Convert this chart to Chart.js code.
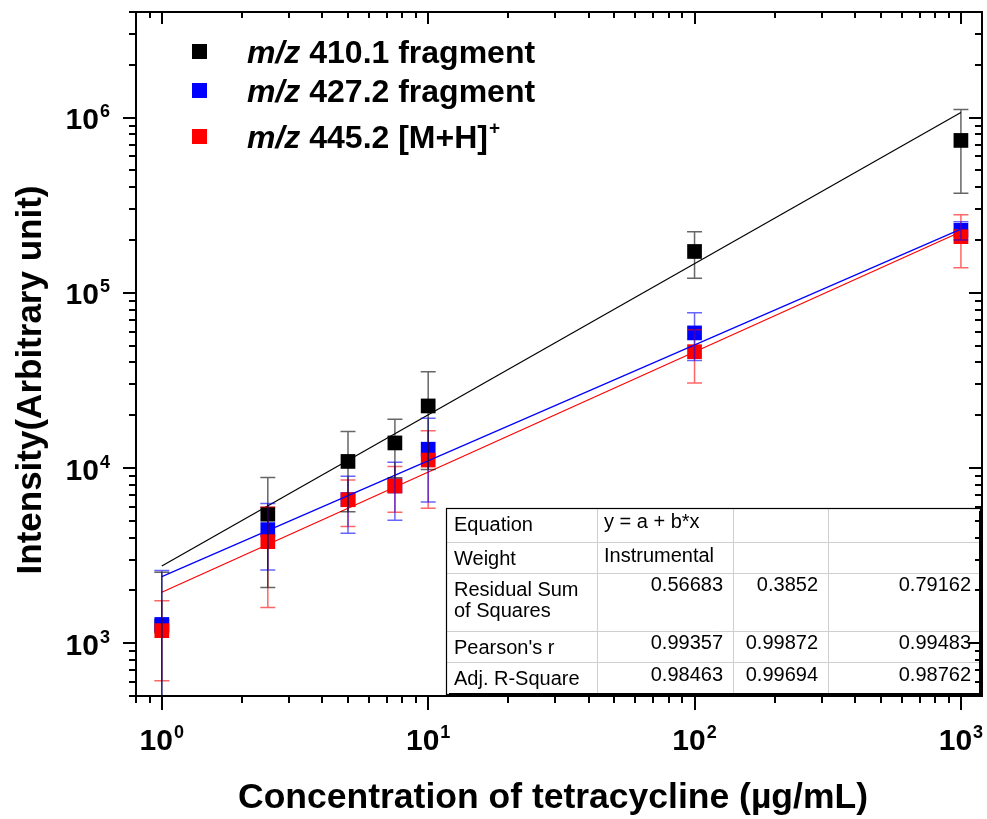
<!DOCTYPE html>
<html>
<head>
<meta charset="utf-8">
<script src="https://cdn.jsdelivr.net/npm/chart.js@4.4.1/dist/chart.umd.min.js"></script>
<style>
  html, body { margin: 0; padding: 0; background: #fff; }
</style>
</head>
<body>
<canvas id="chart" width="987" height="819"></canvas>
<script>
// Concentration of tetracycline (µg/mL)
const concentrations = [1, 2.5, 5, 7.5, 10, 100, 1000];

// Mean intensity and error (SD) per fragment
const mz410 = [1250, 5450, 10900, 13900, 22600, 172000, 740000];
const mz410Err = [1290, 3370, 5270, 5100, 12800, 51000, 370000];
const mz427 = [1280, 4450, 6600, 7900, 12800, 59000, 227000];
const mz427Err = [1320, 1830, 2360, 2870, 6400, 18000, 27000];
const mz445 = [1180, 3800, 6590, 7900, 11100, 46100, 209000];
const mz445Err = [570, 2200, 1960, 2300, 5200, 15500, 70000];

// Linear fit lines (log-log), end points at x = 1 and x = 1000
const fitX = [1, 1000];
const fit410 = [2760, 1068000];
const fit427 = [2400, 230700];
const fit445 = [1954, 223000];

const seriesNames = ['410.1 fragment', '427.2 fragment', '445.2 [M+H]'];
const xTickValues = [1, 10, 100, 1000];
const yTickValues = [1e3, 1e4, 1e5, 1e6];

// Fit statistics table
const tableLabels = ['Equation', 'Weight', 'Residual Sum|of Squares', "Pearson's r", 'Adj. R-Square'];
const equationText = 'y = a + b*x';
const weightText = 'Instrumental';
const residualSS = ['0.56683', '0.3852', '0.79162'];
const pearsonR = ['0.99357', '0.99872', '0.99483'];
const adjRSquare = ['0.98463', '0.99694', '0.98762'];

const FONT = 'Arial, "Liberation Sans", sans-serif';

function points(ys) {
  return concentrations.map((x, i) => ({x: x, y: ys[i]}));
}
function fitPoints(ys) {
  return fitX.map((x, i) => ({x: x, y: ys[i]}));
}

function scatterSet(name, ys, errs, color, errColor, order) {
  return {
    label: name,
    data: points(ys),
    errors: errs,
    errorColor: errColor,
    showLine: false,
    pointStyle: 'rect',
    pointRadius: 10.4,
    pointHoverRadius: 10.4,
    borderWidth: 0,
    backgroundColor: color,
    borderColor: color,
    order: order
  };
}
function fitSet(ys, color) {
  return {
    label: 'fit',
    data: fitPoints(ys),
    showLine: true,
    pointRadius: 0,
    borderWidth: 1.2,
    borderColor: color,
    fill: false,
    order: 0
  };
}

function logTicks(min, max) {
  const out = [];
  for (let k = Math.floor(Math.log10(min)); k <= Math.ceil(Math.log10(max)); k++) {
    for (let m = 1; m <= 9; m++) {
      const v = m * Math.pow(10, k);
      if (v >= min * 0.999 && v <= max * 1.001) out.push({v: v, major: m === 1});
    }
  }
  return out;
}

// "10" with a raised exponent
function drawPower(ctx, exp, x, y, align) {
  ctx.font = 'bold 30px ' + FONT;
  const wBase = ctx.measureText('10').width;
  ctx.font = 'bold 18px ' + FONT;
  const wExp = ctx.measureText(exp).width;
  const total = wBase + 1 + wExp;
  const left = align === 'right' ? x - total : x - total / 2;
  ctx.textAlign = 'left';
  ctx.textBaseline = 'alphabetic';
  ctx.font = 'bold 30px ' + FONT;
  ctx.fillText('10', left, y);
  ctx.font = 'bold 18px ' + FONT;
  ctx.fillText(exp, left + wBase + 1, y - 12);
}

// Error bars drawn over the squares, slightly transparent
const errorBars = {
  id: 'errorBars',
  afterDatasetsDraw(chart) {
    const {ctx, chartArea, scales: {x, y}} = chart;
    ctx.save();
    ctx.beginPath();
    ctx.rect(chartArea.left, chartArea.top, chartArea.right - chartArea.left, chartArea.bottom - chartArea.top);
    ctx.clip();
    ctx.lineWidth = 1.5;
    [...chart.data.datasets].filter(ds => ds.errors).reverse().forEach(ds => {
      ctx.strokeStyle = ds.errorColor;
      ds.data.forEach((p, i) => {
        const px = x.getPixelForValue(p.x);
        const hi = y.getPixelForValue(p.y + ds.errors[i]);
        const loVal = p.y - ds.errors[i];
        const lo = loVal > 0 ? y.getPixelForValue(loVal) : chartArea.bottom + 20;
        ctx.beginPath();
        ctx.moveTo(px, hi);
        ctx.lineTo(px, lo);
        ctx.moveTo(px - 7.5, hi);
        ctx.lineTo(px + 7.5, hi);
        if (loVal > 0) {
          ctx.moveTo(px - 7.5, lo);
          ctx.lineTo(px + 7.5, lo);
        }
        ctx.stroke();
      });
    });
    ctx.restore();
  }
};

// Frame, ticks, tick labels, titles, legend and fit table
const decorations = {
  id: 'decorations',
  afterDraw(chart) {
    const {ctx, chartArea: a, scales: {x, y}} = chart;
    ctx.save();
    ctx.fillStyle = '#000';

    // fit table
    const tb = {left: 446, right: 981, top: 508, bottom: 695};
    const cols = [tb.left, 597, 733, 828, tb.right];
    const rows = [tb.top, 541.7, 572.7, 630.5, 662.3, tb.bottom];
    ctx.fillStyle = '#fff';
    ctx.fillRect(tb.left, tb.top, tb.right - tb.left, tb.bottom - tb.top);
    ctx.strokeStyle = '#cfcfcf';
    ctx.lineWidth = 1;
    ctx.beginPath();
    for (let i = 1; i < rows.length - 1; i++) {
      ctx.moveTo(tb.left, Math.round(rows[i]) + 0.5);
      ctx.lineTo(tb.right, Math.round(rows[i]) + 0.5);
    }
    for (let i = 1; i < cols.length - 1; i++) {
      ctx.moveTo(cols[i] + 0.5, tb.top);
      ctx.lineTo(cols[i] + 0.5, tb.bottom);
    }
    ctx.stroke();
    ctx.strokeStyle = '#000';
    ctx.lineWidth = 1.2;
    ctx.strokeRect(tb.left + 0.5, tb.top + 0.5, tb.right - tb.left - 1, tb.bottom - tb.top - 1);
    ctx.lineWidth = 2;
    ctx.beginPath();
    ctx.moveTo(tb.right - 1, tb.top + 3);
    ctx.lineTo(tb.right - 1, tb.bottom);
    ctx.moveTo(tb.left + 3, tb.bottom - 1);
    ctx.lineTo(tb.right, tb.bottom - 1);
    ctx.stroke();

    ctx.fillStyle = '#000';
    ctx.font = '20px ' + FONT;
    ctx.textAlign = 'left';
    ctx.textBaseline = 'alphabetic';
    tableLabels.forEach((t, r) => {
      const lines = t.split('|');
      lines.forEach((ln, j) => ctx.fillText(ln, tb.left + 8, rows[r] + 23 + j * 21.7));
    });
    ctx.fillText(equationText, cols[1] + 7, rows[0] + 20);
    ctx.fillText(weightText, cols[1] + 7, rows[1] + 20);
    ctx.textAlign = 'right';
    [residualSS, pearsonR, adjRSquare].forEach((vals, k) => {
      const r = k + 2;
      vals.forEach((v, c) => ctx.fillText(v, cols[c + 2] - 10, rows[r] + 18.5));
    });

    // plot frame
    ctx.strokeStyle = '#000';
    ctx.lineWidth = 2;
    ctx.strokeRect(a.left, a.top, a.right - a.left, a.bottom - a.top);

    // ticks
    ctx.beginPath();
    logTicks(x.min, x.max).forEach(t => {
      const px = Math.round(x.getPixelForValue(t.v));
      ctx.moveTo(px, a.bottom);
      ctx.lineTo(px, a.bottom + (t.major ? 14 : 7));
      ctx.moveTo(px, a.top);
      ctx.lineTo(px, a.top + (t.major ? 12 : 6));
    });
    logTicks(y.min, y.max).forEach(t => {
      const py = Math.round(y.getPixelForValue(t.v));
      ctx.moveTo(a.left, py);
      ctx.lineTo(a.left - (t.major ? 13 : 7), py);
      ctx.moveTo(a.right, py);
      ctx.lineTo(a.right - (t.major ? 13 : 7), py);
    });
    ctx.stroke();

    // tick labels
    ctx.fillStyle = '#000';
    xTickValues.forEach(v => {
      drawPower(ctx, String(Math.round(Math.log10(v))), x.getPixelForValue(v), 750, 'center');
    });
    yTickValues.forEach(v => {
      drawPower(ctx, String(Math.round(Math.log10(v))), 110, y.getPixelForValue(v) + 11.5, 'right');
    });

    // axis titles
    ctx.font = 'bold 35.5px ' + FONT;
    ctx.textAlign = 'center';
    ctx.fillText('Concentration of tetracycline (\u00b5g/mL)', 553, 808);
    ctx.save();
    ctx.translate(41, 380);
    ctx.rotate(-Math.PI / 2);
    ctx.font = 'bold 35px ' + FONT;
    ctx.fillText('Intensity(Arbitrary unit)', 0, 0);
    ctx.restore();

    // legend
    const legendRows = [63, 102, 148];
    const sets = chart.data.datasets.filter(ds => ds.errors);
    sets.forEach((ds, i) => {
      const by = legendRows[i];
      ctx.fillStyle = ds.backgroundColor;
      ctx.fillRect(192, by - 19, 15, 15);
      ctx.fillStyle = '#000';
      ctx.textAlign = 'left';
      ctx.font = 'italic bold 32px ' + FONT;
      ctx.fillText('m/z', 247, by);
      let cx = 247 + ctx.measureText('m/z ').width;
      ctx.font = 'bold 32px ' + FONT;
      ctx.fillText(ds.label, cx, by);
      if (i === 2) {
        cx += ctx.measureText(ds.label).width + 1;
        ctx.font = 'bold 19px ' + FONT;
        ctx.fillText('+', cx, by - 14);
      }
    });
    ctx.restore();
  }
};

new Chart(document.getElementById('chart'), {
  type: 'scatter',
  data: {
    datasets: [
      scatterSet(seriesNames[0], mz410, mz410Err, '#000000', 'rgba(0,0,0,0.6)', 3),
      scatterSet(seriesNames[1], mz427, mz427Err, '#0000ff', 'rgba(0,0,255,0.6)', 2),
      scatterSet(seriesNames[2], mz445, mz445Err, '#ff0000', 'rgba(255,0,0,0.6)', 1),
      fitSet(fit410, '#000000'),
      fitSet(fit427, '#0000ff'),
      fitSet(fit445, '#ff0000')
    ]
  },
  options: {
    responsive: false,
    animation: false,
    layout: {autoPadding: false, padding: {left: 136, right: 5, top: 12, bottom: 123}},
    plugins: {legend: {display: false}, tooltip: {enabled: false}},
    scales: {
      x: {type: 'logarithmic', min: 0.8, max: 1200, display: false},
      y: {type: 'logarithmic', min: 500, max: 4e6, display: false}
    }
  },
  plugins: [errorBars, decorations]
});
</script>
</body>
</html>
